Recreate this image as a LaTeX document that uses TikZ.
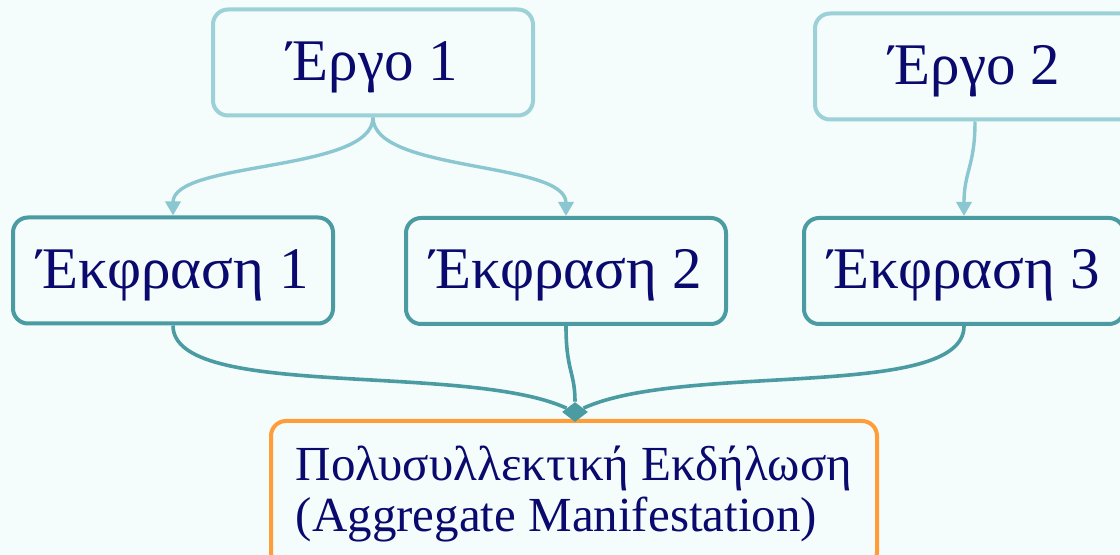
\documentclass[tikz,border=0pt]{standalone}
\usepackage{fontspec}
\setmainfont{Liberation Serif}
\usepackage{tikz}
\usetikzlibrary{positioning}
\usetikzlibrary{arrows.meta,shapes.geometric}
\definecolor{bgcol}{HTML}{F5FCFC}
\definecolor{worklight}{HTML}{9DD1D8}
\definecolor{linklight}{HTML}{8BC7D0}
\definecolor{exprdark}{HTML}{4A9CA2}
\definecolor{aggorange}{HTML}{FF9E38}
\definecolor{textnavy}{HTML}{0A0A6E}
\tikzstyle{workbox}=[rectangle,rounded corners=7.5pt,draw=worklight,line width=2pt,fill=bgcol,minimum width=160pt,minimum height=53pt,inner sep=0pt,text height=20pt,text depth=2pt,text=textnavy,font=\fontsize{29.5}{34}\selectfont]
\tikzstyle{exprbox}=[workbox,draw=exprdark]
\tikzstyle{aggbox}=[rectangle,rounded corners=7.5pt,draw=aggorange,line width=2pt,fill=bgcol,minimum width=303pt,minimum height=73pt,inner sep=0pt,align=left,text=textnavy,font=\fontsize{24.5}{25.5}\selectfont]
\tikzstyle{worklink}=[draw=linklight,line width=1.7pt,-{Triangle[length=7pt,width=7.5pt]}]
\tikzstyle{exprlink}=[draw=exprdark,line width=1.8pt]
\tikzstyle{joint}=[diamond,fill=exprdark,inner sep=0pt,minimum width=13pt,minimum height=10pt]

\begin{document}
\begin{tikzpicture}[x=0.5pt,y=-0.5pt]
    % Background and fixed frame
    \useasboundingbox (0,0) rectangle (1120,555);
    \fill[bgcol] (0,0) rectangle (1120,555);

    % First the works
    \foreach \pos/\name/\label in {{(373,62.5)/W1/Έργο 1}, {(975,66.5)/W2/Έργο 2}}
        \node[workbox] (\name) at \pos {\label};

    % Then the expressions
    \foreach \pos/\name/\label in {{(173,270.5)/E1/Έκφραση 1}, {(566,271)/E2/Έκφραση 2}, {(964,271)/E3/Έκφραση 3}}
        \node[exprbox] (\name) at \pos {\label};

    % Aggregate manifestation and the join point
    \node[aggbox] (AM) at (574,494) {Πολυσυλλεκτική Εκδήλωση\\(Aggregate Manifestation)};
    \node[joint] (J) at (575,412) {};

    % Work -> expression links
    \path[worklink] (W1.south) .. controls +(0,55) and +(0,-55) .. (E1.north);
    \path[worklink] (W1.south) .. controls +(0,55) and +(0,-55) .. (E2.north);
    \path[worklink] (W2.south) .. controls +(0,45) and +(0,-45) .. (E3.north);

    % Expression -> aggregate links
    \path[exprlink] (E1.south) .. controls +(0,75) and +(-110,-50) .. (J);
    \path[exprlink] (E2.south) .. controls +(0,45) and +(0,-40) .. (J);
    \path[exprlink] (E3.south) .. controls +(0,75) and +(110,-50) .. (J);
\end{tikzpicture}
\end{document}
